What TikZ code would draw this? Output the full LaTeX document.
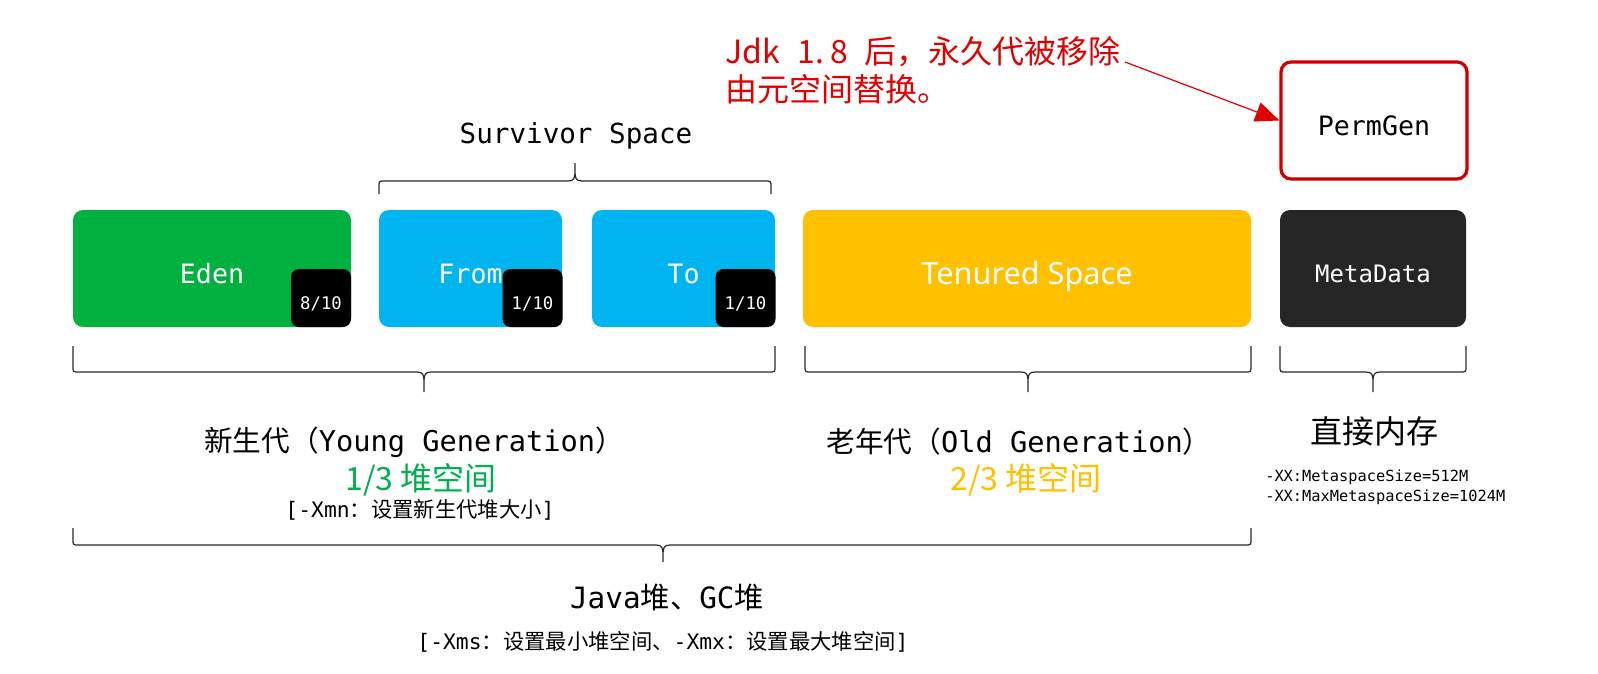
\documentclass[tikz,border=0pt]{standalone}
\usepackage{fontspec}
\setmainfont{Noto Sans CJK SC}
\newfontfamily\mono{DejaVu Sans Mono}
\newfontfamily\latinsans{Noto Sans}
\usetikzlibrary{arrows.meta}
\definecolor{edengreen}{RGB}{0,177,64}
\definecolor{survblue}{RGB}{0,180,240}
\definecolor{tenuredc}{RGB}{255,192,0}
\definecolor{metadark}{RGB}{38,38,38}
\definecolor{permred}{RGB}{204,0,0}
\definecolor{notered}{RGB}{225,0,0}
\definecolor{txtgreen}{RGB}{0,176,80}
\definecolor{txtorange}{RGB}{255,192,0}
\definecolor{bracec}{RGB}{40,40,40}
\tikzset{
  memblock/.style={rounded corners=7.5pt, inner sep=0pt, minimum height=87.75pt,
    text=white, font=\mono\fontsize{20}{24}\selectfont, text height=22pt, text depth=0pt},
  ratiobox/.style={fill=black, rounded corners=6pt, inner sep=0pt,
    minimum width=45pt, minimum height=43.5pt, text=white,
    font=\mono\fontsize{13}{15}\selectfont, text height=17pt, text depth=0pt},
  bracestyle/.style={draw=bracec, line width=0.9pt, line join=round},
  bigtxt/.style={font=\fontsize{21.5}{26}\selectfont, text=black, inner sep=0pt},
  pcttxt/.style={font=\fontsize{24}{28}\selectfont, inner sep=0pt},
  opttxt/.style={font=\fontsize{16}{19}\selectfont, text=black, inner sep=0pt},
  smallopt/.style={font=\mono\fontsize{11.5}{14}\selectfont, text=black, inner sep=0pt, anchor=west},
  notetxt/.style={font=\fontsize{24}{28}\selectfont, text=notered, inner sep=0pt, anchor=west}
}
% x1, x2, xm, y0 (ends), yh (bar), yt (tip), dir (+1 down / -1 up)
\newcommand{\membrace}[7]{%
  \draw[bracestyle] (#1,#4) -- (#1,{#5-6*#7}) .. controls (#1,#5) .. ({#1+6},#5)
    -- ({#3-7},#5) .. controls ({#3-1},#5) and (#3,{#5+3*#7}) .. (#3,{#5+9*#7}) -- (#3,#6)
    (#3,{#5+9*#7}) .. controls (#3,{#5+3*#7}) and ({#3+1},#5) .. ({#3+7},#5)
    -- ({#2-6},#5) .. controls (#2,#5) .. (#2,{#5-6*#7}) -- (#2,#4);}
\begin{document}
\begin{tikzpicture}[x=0.75pt,y=-0.75pt]
\useasboundingbox (0,0) rectangle (1598,674);
\fill[white] (0,0) rectangle (1598,674);

% memory blocks
\node[memblock, fill=edengreen, minimum width=208.5pt] (eden) at (212,268.5) {Eden};
\node[memblock, fill=survblue, minimum width=137.25pt] (from) at (470.5,268.5) {From};
\node[memblock, fill=survblue, minimum width=137.25pt] (to) at (683.5,268.5) {To};
\node[memblock, fill=tenuredc, minimum width=336pt, font=\latinsans\fontsize{23}{27}\selectfont, text height=24pt] (tenured) at (1027,268.5) {Tenured Space};
\node[memblock, fill=metadark, minimum width=139.5pt, font=\mono\fontsize{18}{22}\selectfont, text height=20.6pt] (meta) at (1373,268.5) {MetaData};
\node[memblock, draw=permred, line width=2.4pt, fill=white, text=black, minimum width=139.5pt] (perm) at (1374,120.5) {PermGen};

% ratio tags
\node[ratiobox] (edenr) at (321,298) {8/10};
\node[ratiobox] (fromr) at (532.5,298) {1/10};
\node[ratiobox] (tor) at (745.5,298) {1/10};

% survivor brace
\membrace{379}{771}{575}{194}{181}{163}{-1}
\node[font=\mono\fontsize{20.7}{24}\selectfont, inner sep=0pt] (survtxt) at (576,136) {Survivor Space};

% young brace
\membrace{73}{775}{424}{346}{372}{392}{1}
\node[bigtxt] (young) at (414,442) {新生代（{\mono Young Generation}）};
\node[pcttxt, text=txtgreen] (youngpct) at (421,480) {1/3 堆空间};
\node[opttxt] (youngopt) at (420,510) {{\mono [-Xmn}：设置新生代堆大小{\mono ]}};

% old brace
\membrace{805}{1251}{1028}{346}{372}{392}{1}
\node[bigtxt] (old) at (1019,442) {老年代（{\mono Old Generation}）};
\node[pcttxt, text=txtorange] (oldpct) at (1026,480) {2/3 堆空间};

% meta brace
\membrace{1280}{1466}{1373}{346}{372}{392}{1}
\node[font=\fontsize{24}{28}\selectfont, inner sep=0pt] (direct) at (1374,431) {直接内存};
\node[smallopt] (mopt1) at (1265,477) {-XX:MetaspaceSize=512M};
\node[smallopt] (mopt2) at (1265,497) {-XX:MaxMetaspaceSize=1024M};

% java heap brace
\membrace{73}{1251}{663}{528}{545}{562}{1}
\node[font=\fontsize{22}{26}\selectfont, inner sep=0pt] (java) at (667,597) {{\mono Java}堆、{\mono GC}堆};
\node[opttxt] (javaopt) at (663,642) {{\mono [-Xms}：设置最小堆空间、{\mono -Xmx}：设置最大堆空间{\mono ]}};

% note
\node[notetxt] (note1) at (725,52) {Jdk\hspace{0.55em}1.\hspace{0.2em}8\hspace{0.5em}后，永久代被移除};
\node[notetxt] (note2) at (725,89) {由元空间替换。};
\coordinate (arrstart) at (1125,62);
\draw[notered, line width=0.9pt, -{Triangle[length=18pt,width=15pt]}] (arrstart) -- (perm.west);
\end{tikzpicture}
\end{document}
